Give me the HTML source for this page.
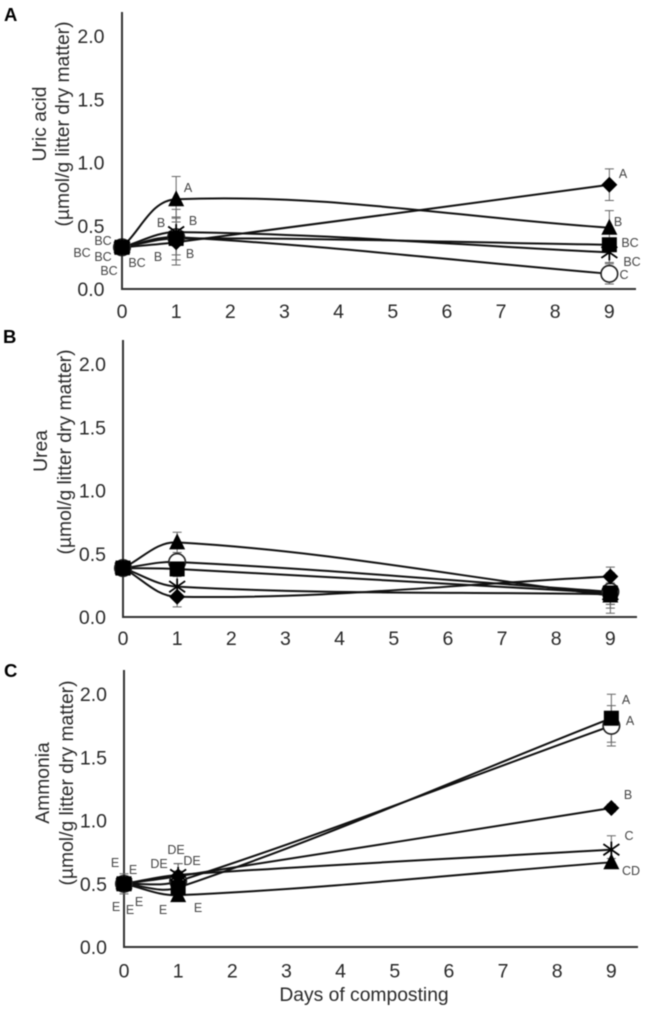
<!DOCTYPE html>
<html>
<head>
<meta charset="utf-8">
<style>
html,body{margin:0;padding:0;background:#fff;}
svg{display:block;font-family:"Liberation Sans",sans-serif;filter:blur(0.4px);}
.tick{font-size:19.5px;fill:#2a2a2a;}
.title{font-size:19.3px;fill:#2a2a2a;}
.ann{font-size:12.5px;fill:#444;text-anchor:middle;dominant-baseline:central;}
.panel{font-size:18.5px;font-weight:bold;fill:#000;}
</style>
</head>
<body>
<svg id="chart" width="661" height="1013" viewBox="0 0 661 1013" xmlns="http://www.w3.org/2000/svg">
<g id="marks"></g>
<text class="panel" x="4" y="21">A</text>
<text class="panel" x="3" y="343">B</text>
<text class="panel" x="4" y="677">C</text>
<text class="title" text-anchor="middle" transform="translate(46,124) rotate(-90)">Uric acid</text>
<text class="title" text-anchor="middle" transform="translate(69,124) rotate(-90)">(µmol/g litter dry matter)</text>
<text class="title" text-anchor="middle" transform="translate(47,451) rotate(-90)">Urea</text>
<text class="title" text-anchor="middle" transform="translate(71,452) rotate(-90)">(µmol/g litter dry matter)</text>
<text class="title" text-anchor="middle" transform="translate(49,783) rotate(-90)">Ammonia</text>
<text class="title" text-anchor="middle" transform="translate(73,783) rotate(-90)">(µmol/g litter dry matter)</text>
<text class="title" x="364" y="1001" text-anchor="middle">Days of composting</text>
<g>
<text class="ann" x="103" y="241">BC</text><text class="ann" x="82" y="253">BC</text><text class="ann" x="103" y="257">BC</text><text class="ann" x="109" y="271">BC</text><text class="ann" x="137" y="263">BC</text>
<text class="ann" x="161" y="223">B</text><text class="ann" x="193" y="221">B</text><text class="ann" x="158" y="257">B</text><text class="ann" x="190" y="254">B</text><text class="ann" x="188" y="188">A</text>
<text class="ann" x="623" y="174">A</text><text class="ann" x="618" y="222">B</text><text class="ann" x="630" y="243">BC</text><text class="ann" x="632" y="262">BC</text><text class="ann" x="624" y="275">C</text>
</g>
<g>
<text class="ann" x="115" y="863">E</text><text class="ann" x="133" y="870">E</text><text class="ann" x="116" y="907">E</text><text class="ann" x="130" y="910">E</text><text class="ann" x="139" y="902">E</text>
<text class="ann" x="159" y="864">DE</text><text class="ann" x="176" y="850">DE</text><text class="ann" x="192" y="861">DE</text><text class="ann" x="163" y="910">E</text><text class="ann" x="198" y="908">E</text>
<text class="ann" x="626" y="700">A</text><text class="ann" x="630" y="721">A</text><text class="ann" x="628" y="795">B</text><text class="ann" x="629" y="836">C</text><text class="ann" x="631" y="871">CD</text>
</g>
</svg>
<script>
const days = [0, 1, 9];
const yTicks = ["0.0", "0.5", "1.0", "1.5", "2.0"];
const xTicks = [0, 1, 2, 3, 4, 5, 6, 7, 8, 9];

const uricTriangle = [0.33, 0.71, 0.485];
const uricDiamond = [0.33, 0.37, 0.825];
const uricSquare = [0.33, 0.40, 0.35];
const uricCircle = [0.33, 0.41, 0.12];
const uricStar = [0.33, 0.45, 0.29];
const uricTriangleErr = [0.03, 0.18, 0.135];
const uricDiamondErr = [0.03, 0.10, 0.125];
const uricSquareErr = [0.03, 0.17, 0.05];
const uricCircleErr = [0.03, 0.22, 0.08];
const uricStarErr = [0.03, 0.11, 0.08];

const ureaTriangle = [0.387, 0.59, 0.17];
const ureaDiamond = [0.387, 0.16, 0.32];
const ureaSquare = [0.387, 0.38, 0.19];
const ureaCircle = [0.387, 0.435, 0.20];
const ureaStar = [0.387, 0.24, 0.18];
const ureaTriangleErr = [0.02, 0.08, 0.10];
const ureaDiamondErr = [0.02, 0.08, 0.075];
const ureaSquareErr = [0.02, 0.05, 0.16];
const ureaCircleErr = [0.02, 0.05, 0.10];
const ureaStarErr = [0.02, 0.08, 0.08];

const ammoniaTriangle = [0.50, 0.41, 0.67];
const ammoniaDiamond = [0.50, 0.56, 1.10];
const ammoniaSquare = [0.50, 0.47, 1.81];
const ammoniaCircle = [0.50, 0.52, 1.75];
const ammoniaStar = [0.50, 0.57, 0.77];
const ammoniaTriangleErr = [0.08, 0.05, 0.03];
const ammoniaDiamondErr = [0.05, 0.10, 0.03];
const ammoniaSquareErr = [0.05, 0.08, 0.19];
const ammoniaCircleErr = [0.06, 0.08, 0.16];
const ammoniaStarErr = [0.05, 0.09, 0.11];

const NS = "http://www.w3.org/2000/svg";
const root = document.getElementById("marks");

function el(parent, tag, attrs, text) {
  const e = document.createElementNS(NS, tag);
  for (const k in attrs) e.setAttribute(k, attrs[k]);
  if (text !== undefined) e.textContent = text;
  parent.appendChild(e);
  return e;
}

function smoothPath(xs, ys) {
  let d = "M" + xs[0] + " " + ys[0];
  const n = xs.length;
  for (let i = 0; i < n - 1; i++) {
    const p0x = xs[Math.max(i - 1, 0)], p0y = ys[Math.max(i - 1, 0)];
    const p3x = xs[Math.min(i + 2, n - 1)], p3y = ys[Math.min(i + 2, n - 1)];
    const segLen = Math.hypot(xs[i + 1] - xs[i], ys[i + 1] - ys[i]);
    const l1 = Math.hypot(xs[i + 1] - p0x, ys[i + 1] - p0y) || 1;
    const l2 = Math.hypot(p3x - xs[i], p3y - ys[i]) || 1;
    const c1x = xs[i] + (xs[i + 1] - p0x) / l1 * segLen * 0.35;
    const c1y = ys[i] + (ys[i + 1] - p0y) / l1 * segLen * 0.35;
    const c2x = xs[i + 1] - (p3x - xs[i]) / l2 * segLen * 0.35;
    const c2y = ys[i + 1] - (p3y - ys[i]) / l2 * segLen * 0.35;
    d += " C" + c1x + " " + c1y + " " + c2x + " " + c2y + " " + xs[i + 1] + " " + ys[i + 1];
  }
  return d;
}

function drawMarker(g, kind, x, y) {
  if (kind === "triangle") {
    el(g, "polygon", { points: x + "," + (y - 9) + " " + (x + 8) + "," + (y + 7) + " " + (x - 8) + "," + (y + 7), fill: "#000" });
  } else if (kind === "diamond") {
    el(g, "polygon", { points: x + "," + (y - 8) + " " + (x + 8) + "," + y + " " + x + "," + (y + 8) + " " + (x - 8) + "," + y, fill: "#000" });
  } else if (kind === "square") {
    el(g, "rect", { x: x - 7.5, y: y - 7.5, width: 15, height: 15, fill: "#000" });
  } else if (kind === "circle") {
    el(g, "circle", { cx: x, cy: y, r: 8.3, fill: "#fff", stroke: "#222", "stroke-width": 1.6 });
  } else {
    const r = 8;
    el(g, "path", {
      d: "M" + (x - r) + " " + (y - r * 0.7) + "L" + (x + r) + " " + (y + r * 0.7) +
         "M" + (x + r) + " " + (y - r * 0.7) + "L" + (x - r) + " " + (y + r * 0.7) +
         "M" + x + " " + (y - r) + "L" + x + " " + (y + r),
      stroke: "#000", "stroke-width": 1.8, fill: "none"
    });
  }
}

function drawPanel(name, originX, zeroY, topY, yLabelRight, xTickY, series) {
  const sx = d => originX + d * 54.15;
  const sy = v => zeroY - v * 126.4;
  const g = el(root, "g", {});
  
  

  const axes = el(g, "path", {
    d: "M" + originX + " " + topY + "V" + zeroY + "H" + (originX + 514),
    fill: "none", stroke: "#333", "stroke-width": 2
  });
  
  

  yTicks.forEach(t => {
    const label = el(g, "text", { class: "tick", x: yLabelRight, y: sy(parseFloat(t)) + 7, "text-anchor": "end" }, t);
    
    
  });
  xTicks.forEach(t => {
    const label = el(g, "text", { class: "tick", x: sx(t), y: xTickY, "text-anchor": "middle" }, String(t));
    
    
  });

  series.forEach(s => {
    s.values.forEach((v, i) => {
      const x = sx(days[i]);
      const top = sy(v + s.err[i]), bot = sy(v - s.err[i]);
      const bar = el(g, "path", {
        d: "M" + x + " " + top + "V" + bot + "M" + (x - 4.5) + " " + top + "H" + (x + 4.5) + "M" + (x - 4.5) + " " + bot + "H" + (x + 4.5),
        stroke: "#666", "stroke-width": 1, fill: "none"
      });
      
      
    });
  });

  series.forEach(s => {
    const line = el(g, "path", {
      d: smoothPath(days.map(sx), s.values.map(sy)),
      fill: "none", stroke: "#111", "stroke-width": 2
    });
    
    
  });

  series.forEach(s => {
    s.values.forEach((v, i) => {
      const m = el(g, "g", {});
      
      
      drawMarker(m, s.kind, sx(days[i]), sy(v));
    });
  });
}

drawPanel("uric-acid", 122, 289, 12, 104.5, 318, [
  { kind: "circle", values: uricCircle, err: uricCircleErr },
  { kind: "star", values: uricStar, err: uricStarErr },
  { kind: "diamond", values: uricDiamond, err: uricDiamondErr },
  { kind: "triangle", values: uricTriangle, err: uricTriangleErr },
  { kind: "square", values: uricSquare, err: uricSquareErr }
]);
drawPanel("urea", 123, 617, 340, 106, 645, [
  { kind: "circle", values: ureaCircle, err: ureaCircleErr },
  { kind: "star", values: ureaStar, err: ureaStarErr },
  { kind: "diamond", values: ureaDiamond, err: ureaDiamondErr },
  { kind: "triangle", values: ureaTriangle, err: ureaTriangleErr },
  { kind: "square", values: ureaSquare, err: ureaSquareErr }
]);
drawPanel("ammonia", 124, 947, 670, 107, 977.5, [
  { kind: "circle", values: ammoniaCircle, err: ammoniaCircleErr },
  { kind: "star", values: ammoniaStar, err: ammoniaStarErr },
  { kind: "diamond", values: ammoniaDiamond, err: ammoniaDiamondErr },
  { kind: "triangle", values: ammoniaTriangle, err: ammoniaTriangleErr },
  { kind: "square", values: ammoniaSquare, err: ammoniaSquareErr }
]);
</script>
</body>
</html>
